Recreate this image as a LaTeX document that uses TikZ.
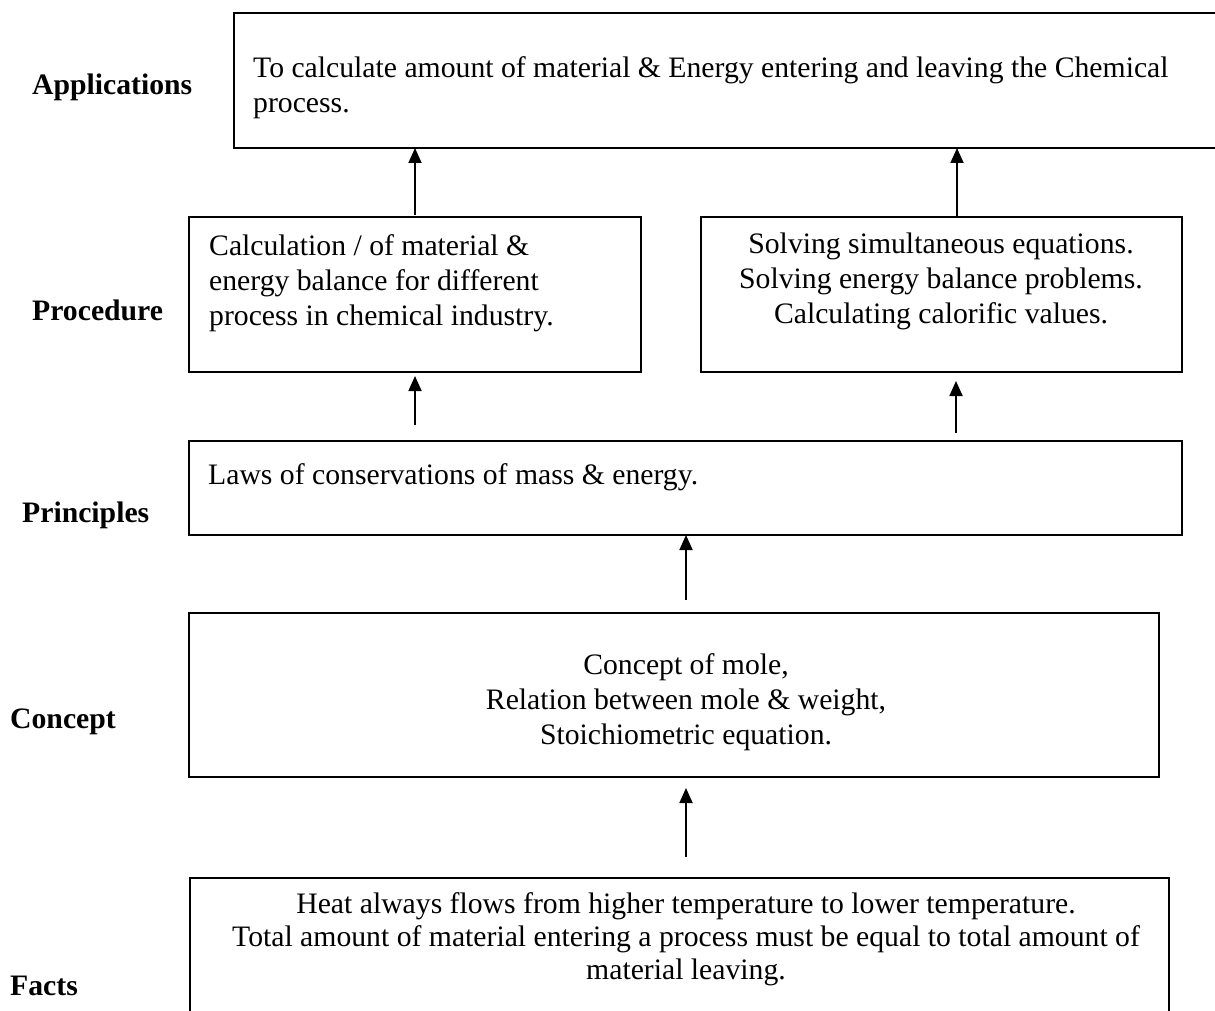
\documentclass[tikz,border=0pt]{standalone}
\usepackage{fontspec}
\setmainfont{Liberation Serif}
\usetikzlibrary{arrows.meta}
\begin{document}
\begin{tikzpicture}[x=1pt,y=-1pt,
  box/.style={draw,line width=1.8pt,inner sep=0pt,outer sep=0pt,anchor=north west},
  txt/.style={inner sep=0pt,font=\fontsize{29.7}{35}\selectfont},
  lbl/.style={inner sep=0pt,font=\fontsize{29.7}{35}\selectfont\bfseries,anchor=base west},
  arr/.style={line width=1.8pt,-{Triangle[width=13pt,length=15pt]}}]
\useasboundingbox[fill=white] (0,0) rectangle (1215,1011);
% boxes
\node[box,minimum width=996pt,minimum height=135pt] (app) at (234,13) {};
\node[box,minimum width=452pt,minimum height=155pt] (procL) at (189,217) {};
\node[box,minimum width=481pt,minimum height=155pt] (procR) at (701,217) {};
\node[box,minimum width=993pt,minimum height=94pt] (princ) at (189,441) {};
\node[box,minimum width=970pt,minimum height=164pt] (conc) at (189,613) {};
\node[box,minimum width=979pt,minimum height=160pt] (facts) at (190,878) {};
% side labels
\node[lbl] (lApp) at (32,95) {Applications};
\node[lbl] (lProc) at (32,320) {Procedure};
\node[lbl] (lPrin) at (22,522) {Principles};
\node[lbl] (lConc) at (10,728) {Concept};
\node[lbl] (lFact) at (10,995) {Facts};
% texts
\node[txt,anchor=base west] (a1) at (253,78) {To calculate amount of material \& Energy entering and leaving the Chemical};
\node[txt,anchor=base west] (a2) at (253,113) {process.};
\node[txt,anchor=base west] (pl1) at (209,255) {Calculation / of material \&};
\node[txt,anchor=base west] (pl2) at (209,290) {energy balance for different};
\node[txt,anchor=base west] (pl3) at (209,325) {process in chemical industry.};
\node[txt,anchor=base] (pr1) at (941,253) {Solving simultaneous equations.};
\node[txt,anchor=base] (pr2) at (941,288) {Solving energy balance problems.};
\node[txt,anchor=base] (pr3) at (941,323) {Calculating calorific values.};
\node[txt,anchor=base west] (pp1) at (208,484) {Laws of conservations of mass \& energy.};
\node[txt,anchor=base] (c1) at (686,674) {Concept of mole,};
\node[txt,anchor=base] (c2) at (686,709) {Relation between mole \& weight,};
\node[txt,anchor=base] (c3) at (686,744) {Stoichiometric equation.};
\node[txt,anchor=base] (f1) at (686,913) {Heat always flows from higher temperature to lower temperature.};
\node[txt,anchor=base] (f2) at (686,946) {Total amount of material entering a process must be equal to total amount of};
\node[txt,anchor=base] (f3) at (686,979) {material leaving.};
% arrows
\coordinate (t1) at (415,215);
\coordinate (t2) at (957,217);
\coordinate (t3) at (415,425);
\coordinate (t4) at (956,433);
\coordinate (t5) at (686,600);
\coordinate (t6) at (686,857);
\draw[arr] (t1) -- (t1 |- app.south);
\draw[arr] (t2) -- (t2 |- app.south);
\draw[arr,shorten >=4pt] (t3) -- (t3 |- procL.south);
\draw[arr,shorten >=9pt] (t4) -- (t4 |- procR.south);
\draw[arr] (t5) -- (t5 |- princ.south);
\draw[arr,shorten >=11pt] (t6) -- (t6 |- conc.south);
\end{tikzpicture}
\end{document}
